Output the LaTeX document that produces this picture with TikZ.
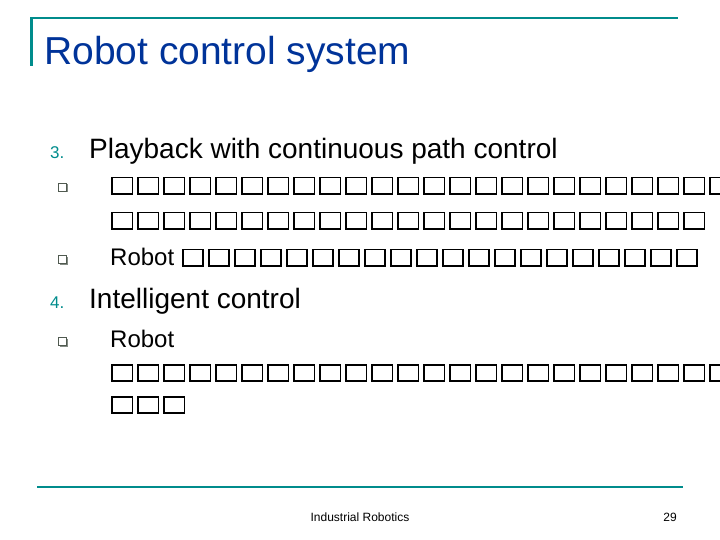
\documentclass[tikz,border=0pt]{standalone}
\usepackage{fontspec}
\setmainfont{Liberation Sans}
\definecolor{teal1}{RGB}{0,140,140}
\definecolor{titleblue}{RGB}{0,51,153}
\definecolor{bulgray}{RGB}{80,90,80}
\newcommand{\onebx}{\makebox[26pt][l]{\hspace{1pt}{\setlength\fboxsep{0pt}\setlength\fboxrule{1.7pt}\fbox{\rule{18.6pt}{0pt}\rule{0pt}{14.5pt}}}}}
\newcommand{\bx}[1]{\foreach\i in {1,...,#1}{\onebx}}
\tikzset{
 txt/.style={anchor=base west,inner sep=0pt,font=\fontsize{24}{28}\selectfont},
 lvl/.style={anchor=base west,inner sep=0pt,font=\fontsize{28}{32}\selectfont},
 num/.style={anchor=base west,inner sep=0pt,text=teal1,font=\fontsize{17}{20}\selectfont},
 frame/.style={teal1,line width=2.5pt}
}
\begin{document}
\begin{tikzpicture}[x=1pt,y=-1pt]
\useasboundingbox (0,0) rectangle (720,540);
\clip (0,0) rectangle (720,540);
\coordinate (fl) at (31.5,66); \coordinate (ft2) at (678,18);
\draw[frame] (fl) -- (31.5,18) -- (ft2);
\coordinate (fb1) at (37,487); \coordinate (fb2) at (683,487);
\draw[frame] (fb1) -- (fb2);
\node[anchor=base west,inner sep=0pt,text=titleblue,font=\fontsize{39}{44}\selectfont] (title) at (44,65) {Robot control system};
\node[num] (n3) at (50,159) {3.};
\node[lvl] (l1) at (89,159) {Playback with continuous path control};
\foreach \y/\n in {193/b1,265/b2,347/b3}{
  \node[fill=bulgray!70,minimum size=8pt,inner sep=0pt] (\n s) at (63.5,\y-4.5) {};
  \node[draw=bulgray,fill=white,minimum size=8pt,inner sep=0pt,line width=0.8pt] (\n) at (62.5,\y-5.5) {};
}
\node[txt] (t1) at (110,193) {\bx{24}};
\node[txt] (t2) at (110,228) {\bx{23}};
\node[txt] (t3) at (110,265) {Robot \bx{20}};
\node[num] (n4) at (50,308) {4.};
\node[lvl] (l2) at (89,308) {Intelligent control};
\node[txt] (t4) at (110,347) {Robot};
\node[txt] (t5) at (110,380) {\bx{24}};
\node[txt] (t6) at (110,412) {\bx{3}};
\node[anchor=base,inner sep=0pt,font=\fontsize{12}{14}\selectfont] (foot) at (360,521) {Industrial Robotics};
\node[anchor=base,inner sep=0pt,font=\fontsize{12}{14}\selectfont] (pg) at (670,521) {29};
\end{tikzpicture}
\end{document}
